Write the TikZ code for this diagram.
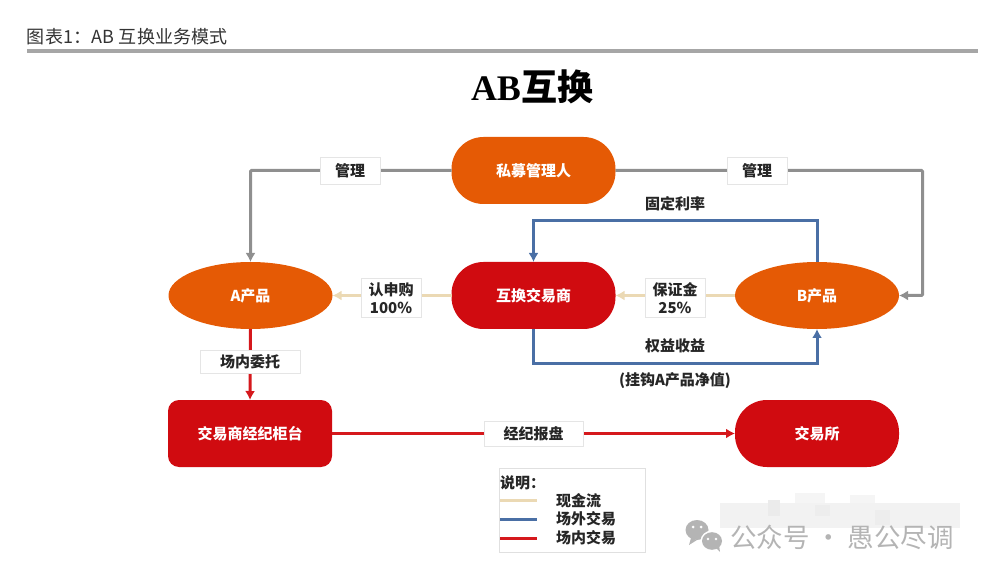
\documentclass[tikz,border=0pt]{standalone}
\usepackage{fontspec}
\setmainfont{Noto Sans CJK SC}
\newfontfamily\serifbold{Liberation Serif}
\usetikzlibrary{arrows.meta,shapes.geometric}
\definecolor{orangeN}{HTML}{E55A05}
\definecolor{redN}{HTML}{D00B10}
\definecolor{greyL}{HTML}{8F8F8F}
\definecolor{blueL}{HTML}{4A6FA5}
\definecolor{beigeL}{HTML}{EBD9B4}
\definecolor{redL}{HTML}{D5181C}
\definecolor{wm}{HTML}{B4B4B4}
\tikzset{
 x=1pt,y=-1pt,
 every node/.style={inner sep=0pt,outer sep=0pt,align=center},
 nodetext/.style={text=white,font=\fontsize{15}{17}\selectfont\bfseries},
 pill/.style={nodetext,rectangle,fill=redN,minimum width=164pt,minimum height=67pt,rounded corners=32pt},
 oval/.style={nodetext,ellipse,fill=orangeN,minimum width=164pt,minimum height=67pt},
 link/.style={line width=3pt,-{Latex[length=9pt,width=10pt]}},
 lab/.style={draw=black!10,fill=white,line width=.8pt,font=\fontsize{15}{18}\selectfont\bfseries,text=black!85},
 txt/.style={font=\fontsize{15}{17}\selectfont\bfseries,text=black!85},
 legtxt/.style={font=\fontsize{15}{17}\selectfont\bfseries,text=black!85,anchor=west},
 legline/.style={line width=3pt},
 wmtext/.style={text=wm,font=\fontsize{26.5}{30}\selectfont}
}
\begin{document}
\begin{tikzpicture}
\useasboundingbox (0,0) rectangle (988,577);
% header
\node[anchor=west,font=\fontsize{18}{20}\selectfont\addfontfeature{LetterSpace=1},text=black!80] (hdr) at (27,37) {图表1：AB 互换业务模式};
\coordinate (ruleL) at (27,51); \coordinate (ruleR) at (978,51);
\draw[line width=4pt,black!35] (ruleL) -- (ruleR);
\node[font=\fontsize{36}{40}\selectfont\bfseries] (title) at (532,87) {{\serifbold AB}互换};
% main nodes
\node[pill,fill=orangeN] (mgr) at (533.5,170.5) {私募管理人};
\node[pill] (swap) at (533.5,295.5) {互换交易商};
\node[oval] (pa) at (250.5,295.5) {A产品};
\node[oval] (pb) at (817,295.5) {B产品};
\node[pill,rounded corners=11pt] (broker) at (250,433.5) {交易商经纪柜台};
\node[pill] (ex) at (817,433.5) {交易所};
% connectors
\draw[link,greyL,rounded corners=1pt] (mgr.west) -| (pa.north);
\draw[link,greyL,rounded corners=1pt] (mgr.east) -| ++(307,125) -- (pb.east);
\coordinate (topB) at (817,221);
\coordinate (botB) at (817,363);
\draw[link,blueL] (pb.north) -- (topB) -| (swap.north);
\draw[link,blueL] (swap.south) |- (botB) -- (pb.south);
\draw[link,beigeL] (pb.west) -- (swap.east);
\draw[link,beigeL] (swap.west) -- (pa.east);
\draw[link,redL] (pa.south) -- (broker.north);
\draw[link,redL] (broker.east) -- (ex.west);
% labels
\node[lab,minimum width=60pt,minimum height=27pt] (l1) at (350,170.5) {管理};
\node[lab,minimum width=60pt,minimum height=27pt] (l2) at (757,170.5) {管理};
\node[lab,minimum width=60pt,minimum height=39pt] (l3) at (391,298) {认申购\\100\%};
\node[lab,minimum width=60pt,minimum height=39pt] (l4) at (675,298) {保证金\\25\%};
\node[lab,minimum width=100pt,minimum height=23pt] (l5) at (250,361.5) {场内委托};
\node[lab,minimum width=99pt,minimum height=25pt] (l6) at (533.5,433.5) {经纪报盘};
\node[txt] (t1) at (675,204) {固定利率};
\node[txt] (t2) at (675,346) {权益收益};
\node[txt] (t3) at (675,381) {(挂钩A产品净值)};
% legend
\node[draw=black!12,line width=.8pt,fill=white,minimum width=146pt,minimum height=84pt] (leg) at (572,510) {};
\node[legtxt] (lt0) at (500,483) {说明：};
\node[legtxt] (lt1) at (556,501) {现金流};
\node[legtxt] (lt2) at (556,519) {场外交易};
\node[legtxt] (lt3) at (556,538) {场内交易};
\coordinate (a1) at (500,500); \coordinate (b1) at (537,500);
\coordinate (a2) at (500,519); \coordinate (b2) at (537,519);
\coordinate (a3) at (500,538); \coordinate (b3) at (537,538);
\draw[legline,beigeL] (a1) -- (b1);
\draw[legline,blueL] (a2) -- (b2);
\draw[legline,redL] (a3) -- (b3);
% watermark mosaic
\fill[black!5] (720,503) rectangle (960,528);
\fill[black!4] (795,493) rectangle (825,503);
\fill[black!4] (850,495) rectangle (875,503);
\fill[black!8] (768,500) rectangle (780,516);
\fill[black!7] (815,505) rectangle (830,516);
\fill[black!7] (875,510) rectangle (890,525);
% wechat mark
\fill[wm] (697,530) ellipse [x radius=11.5, y radius=10];
\fill[wm] (691,538) -- (689,545) -- (697,540) -- cycle;
\fill[white] (712,541) ellipse [x radius=11.5, y radius=10.5];
\fill[wm] (712,541) ellipse [x radius=10, y radius=8.8];
\fill[wm] (716,548) -- (720,552) -- (719,545) -- cycle;
\fill[white] (693,527) circle (1.5) (701,527) circle (1.5) (708,539) circle (1.3) (716,539) circle (1.3);
\node[wmtext,anchor=west] (wmt) at (730,537) {公众号 · 愚公尽调};
\end{tikzpicture}
\end{document}
